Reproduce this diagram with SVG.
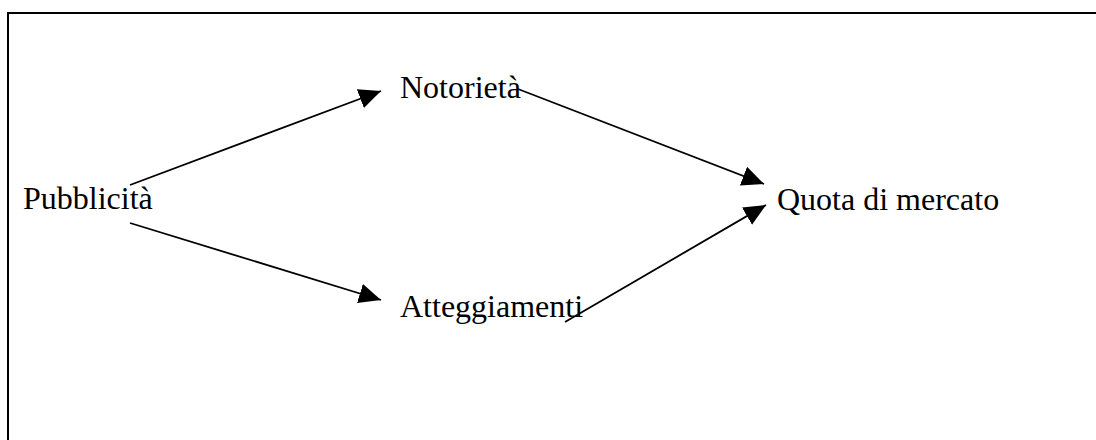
<svg xmlns="http://www.w3.org/2000/svg" width="1096" height="440" viewBox="0 0 1096 440">
  <style>
    .label { font-family: "Liberation Serif", "Times New Roman", serif; font-size: 32px; fill: #000; }
    .edge { stroke: #000; stroke-width: 1.8; fill: none; marker-end: url(#arrow); }
    .frame { stroke: #000; stroke-width: 2; fill: #fff; }
  </style>
  <defs>
    <marker id="arrow" markerUnits="userSpaceOnUse" markerWidth="24" markerHeight="22" refX="22" refY="10.5" orient="auto">
      <path d="M0,0.5 L22,10.5 L0,20.5 Z" fill="#000"/>
    </marker>
  </defs>

  <rect width="1096" height="440" fill="#fff"/>
  <!-- outer frame, open at the right and bottom -->
  <rect class="frame" x="8" y="13" width="1100" height="440"/>

  <g id="connectors">
    <line class="edge" x1="130" y1="185" x2="381" y2="91"/>
    <line class="edge" x1="130" y1="223" x2="381" y2="300"/>
    <line class="edge" x1="518" y1="89" x2="764" y2="184"/>
    <line class="edge" x1="565" y1="322" x2="766" y2="205"/>
  </g>

  <g id="node-pubblicita">
    <text class="label" x="23" y="209">Pubblicità</text>
  </g>
  <g id="node-notorieta">
    <text class="label" x="400" y="98">Notorietà</text>
  </g>
  <g id="node-atteggiamenti">
    <text class="label" x="400" y="317">Atteggiamenti</text>
  </g>
  <g id="node-quota">
    <text class="label" x="777" y="210">Quota di mercato</text>
  </g>
</svg>
